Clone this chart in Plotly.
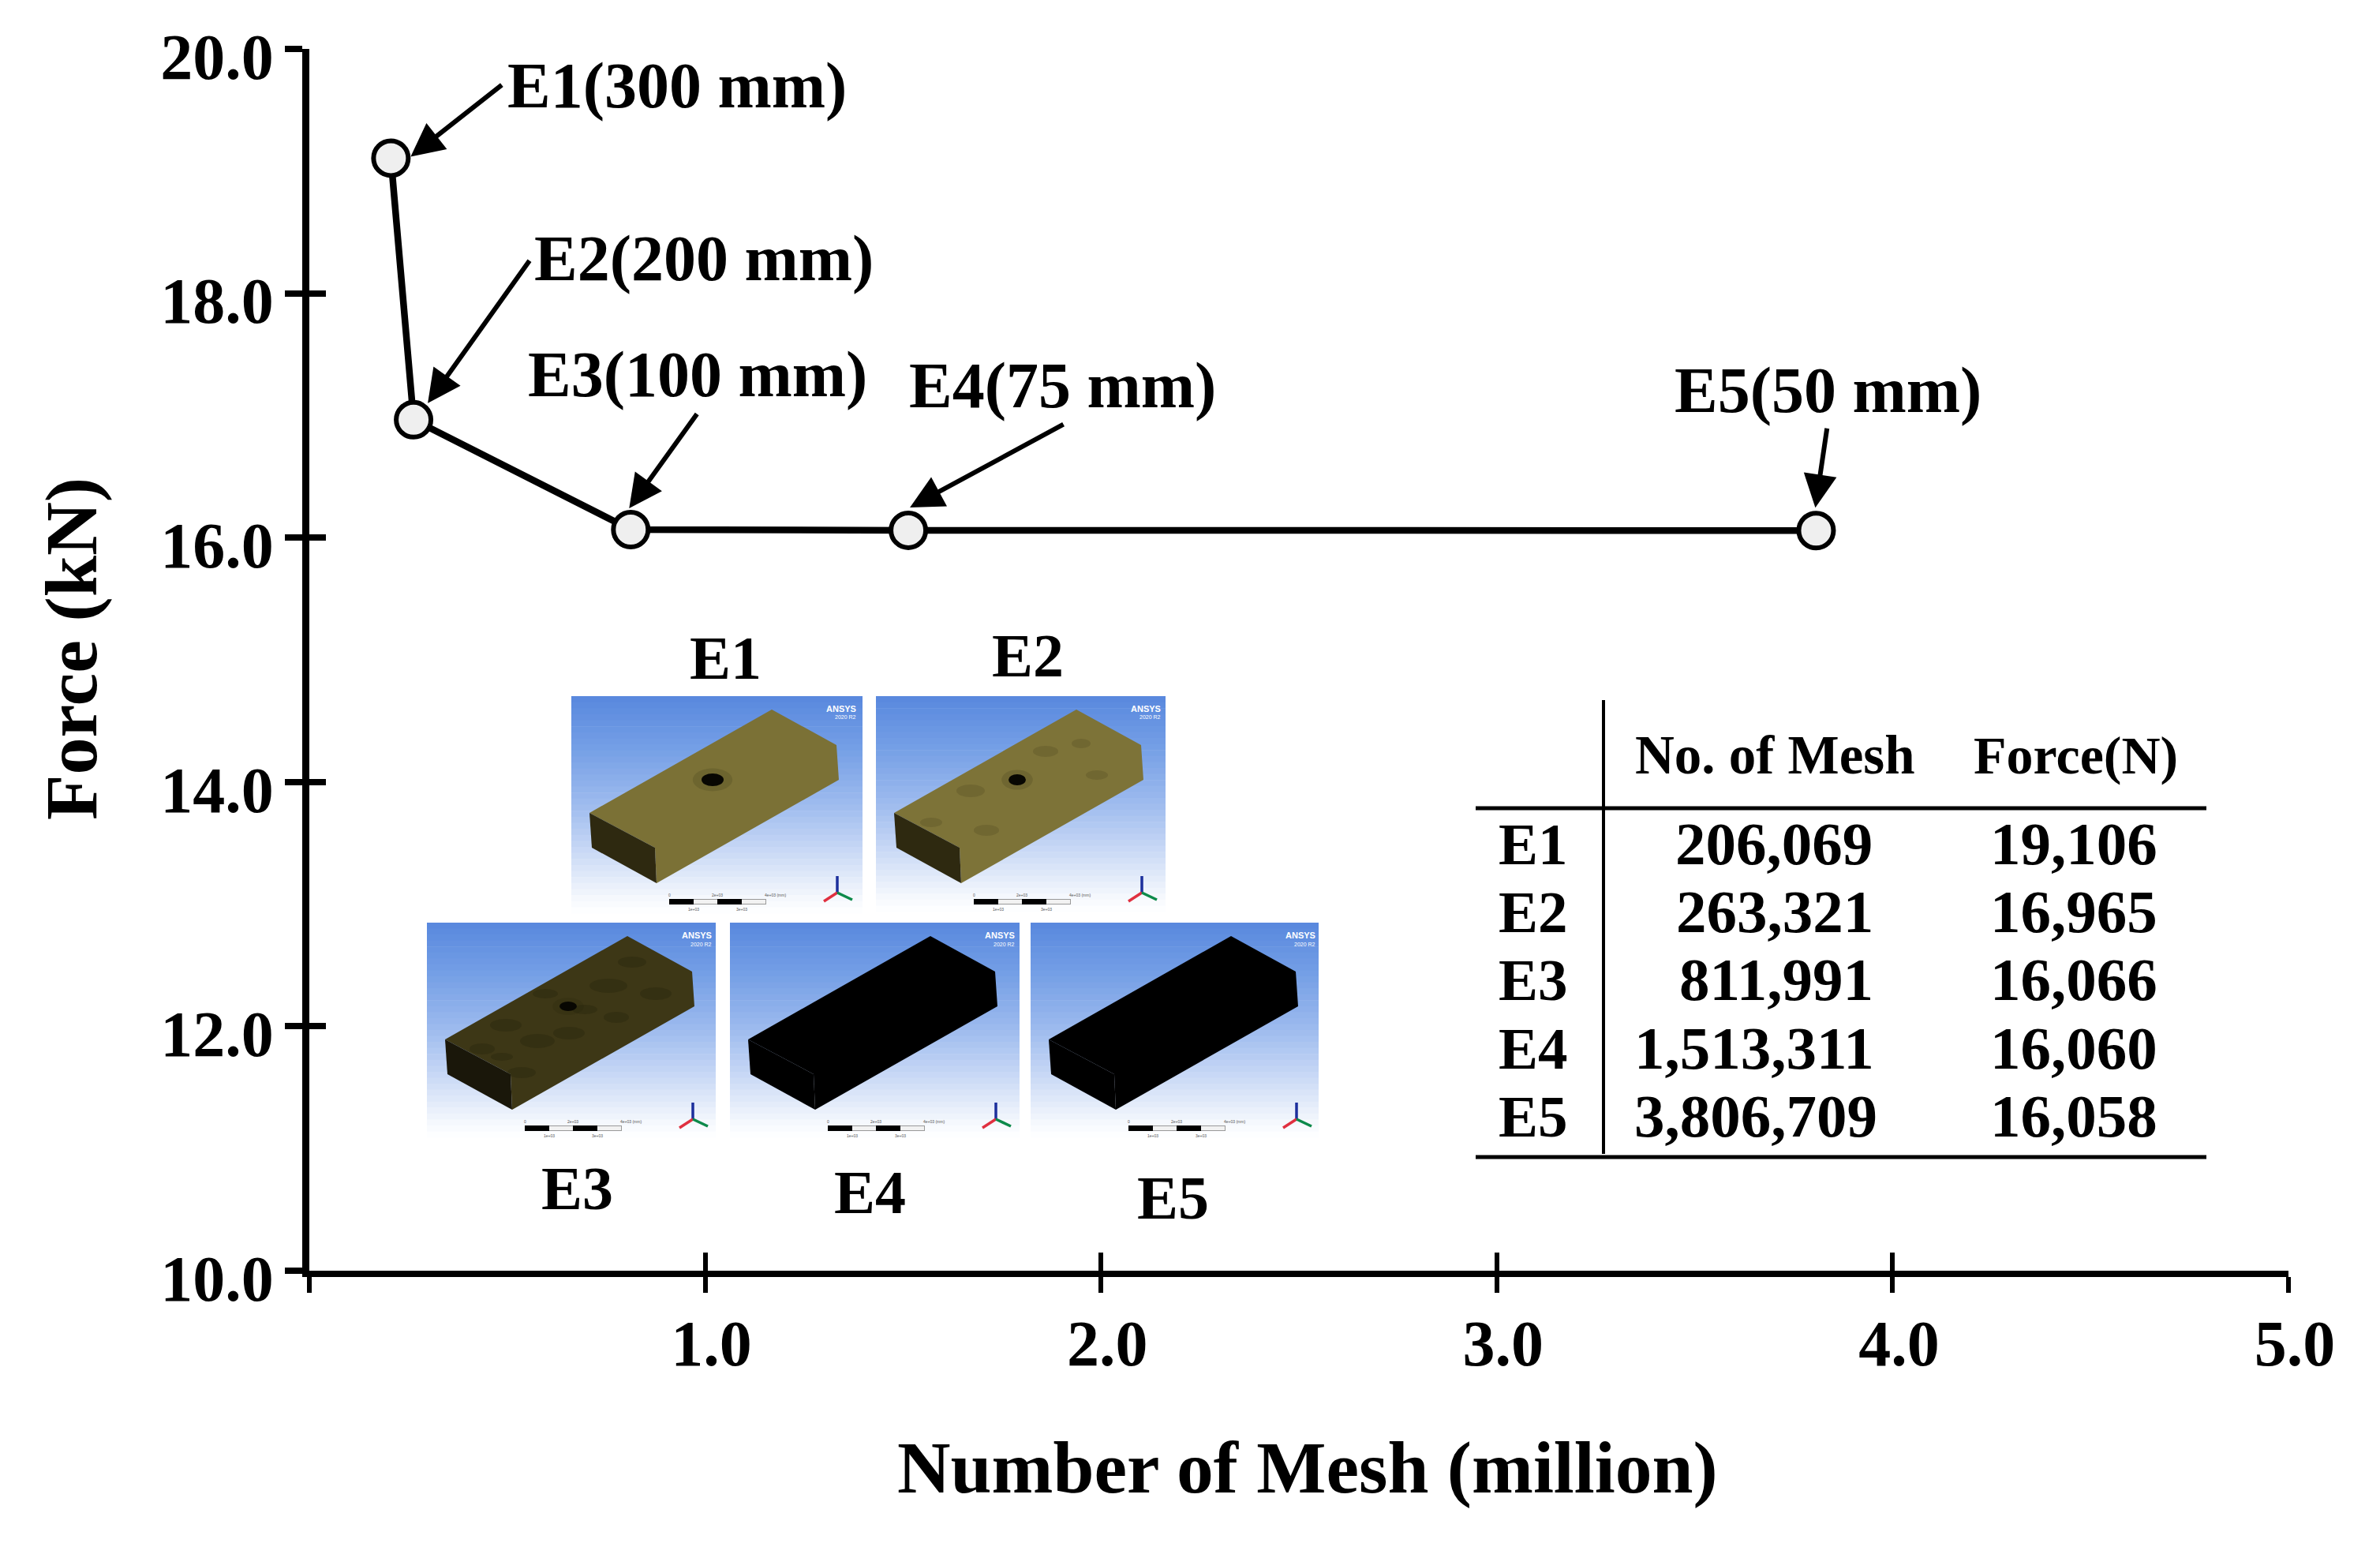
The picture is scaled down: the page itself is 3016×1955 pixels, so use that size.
import plotly.graph_objects as go

# ---------- data ----------
cases = ["E1", "E2", "E3", "E4", "E5"]
element_sizes = ["300 mm", "200 mm", "100 mm", "75 mm", "50 mm"]
mesh_counts = [206069, 263321, 811991, 1513311, 3806709]
force_n = [19106, 16965, 16066, 16060, 16058]
x_ticks = [0, 1, 2, 3, 4, 5]
x_tick_labels = ["", "1.0", "2.0", "3.0", "4.0", "5.0"]
y_ticks = [10, 12, 14, 16, 18, 20]
y_tick_labels = ["10.0", "12.0", "14.0", "16.0", "18.0", "20.0"]
table_headers = ["No. of Mesh", "Force(N)"]
x_title = "Number of Mesh (million)"
y_title = "Force (kN)"

# ---------- layout geometry (page pixels) ----------
W, H = 3016, 1955
BODY = 8  # default margin of the page body
L, R, T, B = 392, 2900, 62, 1610
FONT = "Liberation Serif"
INK = "#000000"


def px(v):
    return (v - L) / (R - L)


def py(v):
    return (B - v) / (B - T)


x_m = [c / 1e6 for c in mesh_counts]
y_k = [f / 1000 for f in force_n]

fig = go.Figure()
fig.add_trace(go.Scatter(
    x=x_m, y=y_k, mode="lines+markers", xaxis="x", yaxis="y", showlegend=False,
    line=dict(color=INK, width=8.5),
    marker=dict(size=44, color="#efefef", line=dict(color=INK, width=6)),
))
# empty trace keeps the overlay axes (inner half of the crossing ticks) alive
fig.add_trace(go.Scatter(x=[None], y=[None], xaxis="x2", yaxis="y2", showlegend=False))

annotations = []
shapes = []


def text(s, x, y, size=78, anchor="left", angle=0):
    annotations.append(dict(
        text=s, xref="paper", yref="paper", x=px(x), y=py(y), showarrow=False,
        xanchor=anchor, yanchor="middle", textangle=angle,
        font=dict(family=FONT, size=size, color=INK, weight="bold"),
    ))


def small(s, x, y, size, color, anchor="center", weight="normal"):
    annotations.append(dict(
        text=s, xref="paper", yref="paper", x=px(x), y=py(y), showarrow=False,
        xanchor=anchor, yanchor="middle",
        font=dict(family="Liberation Sans", size=size, color=color, weight=weight),
    ))


def rect(x0, y0, x1, y1, color):
    shapes.append(dict(type="rect", xref="paper", yref="paper",
                       x0=px(x0), x1=px(x1), y0=py(y0), y1=py(y1),
                       fillcolor=color, line=dict(width=0), layer="below"))


def seg(x0, y0, x1, y1, color=INK, width=5):
    shapes.append(dict(type="line", xref="paper", yref="paper",
                       x0=px(x0), x1=px(x1), y0=py(y0), y1=py(y1),
                       line=dict(color=color, width=width)))


def poly(points, color):
    p = "M " + " L ".join(f"{px(a):.6f} {py(b):.6f}" for a, b in points) + " Z"
    shapes.append(dict(type="path", xref="paper", yref="paper", path=p,
                       fillcolor=color, line=dict(width=0), layer="below"))


def blob(cx, cy, rx, ry, color, opacity=1.0):
    shapes.append(dict(type="circle", xref="paper", yref="paper", layer="below",
                       x0=px(cx - rx), x1=px(cx + rx), y0=py(cy + ry), y1=py(cy - ry),
                       fillcolor=color, opacity=opacity, line=dict(width=0)))


# ---------- callouts ----------
label_pos = [(641, 109), (675, 327), (667, 474), (1150, 488), (2120, 494)]
arrow_tip_offsets = [(25, -2), (18, -21), (-2, -27), (2, -29), (-1, -29)]
arrow_tail_offsets = [(117, -92), (130, -182), (87, -121), (196, -106), (15, -102)]
for i, c in enumerate(cases):
    text(f"{c}({element_sizes[i]})", label_pos[i][0], label_pos[i][1], 82)
    annotations.append(dict(
        x=x_m[i], y=y_k[i], xref="x", yref="y", text="", showarrow=True,
        xshift=arrow_tip_offsets[i][0], yshift=-arrow_tip_offsets[i][1],
        ax=arrow_tail_offsets[i][0], ay=arrow_tail_offsets[i][1],
        axref="pixel", ayref="pixel",
        arrowhead=2, arrowsize=1.4, arrowwidth=6, arrowcolor=INK, standoff=0,
    ))

# ---------- mesh thumbnails ----------
panels = [(724, 882, 369, 275), (1110, 882, 367, 273), (541, 1169, 366, 272),
          (925, 1169, 367, 272), (1306, 1169, 365, 272)]
top_colors = ["#7b7136", "#7d7338", "#3d3716", "#000000", "#000000"]
side_colors = ["#2e2910", "#2e2910", "#1a170a", "#000000", "#000000"]
spot_sizes = [(14, 8), (11, 7), (11, 6), None, None]
panel_titles = [(919, 834), (1302, 830), (731, 1505), (1102, 1510), (1486, 1517)]
mottle = {
    1: [(120, 120, 18, 8), (215, 70, 16, 7), (260, 60, 12, 6), (70, 160, 14, 6), (140, 170, 16, 7), (280, 100, 14, 6)],
    2: [(100, 130, 20, 8), (70, 160, 16, 7), (140, 150, 22, 9), (180, 140, 20, 8), (230, 80, 24, 9),
        (260, 50, 18, 7), (290, 90, 20, 8), (120, 190, 18, 7), (200, 110, 16, 6), (150, 90, 16, 6),
        (240, 120, 16, 7), (95, 170, 14, 5)],
}
grad = [(0.0, (88, 136, 222)), (0.25, (118, 160, 230)), (0.5, (158, 187, 238)),
        (0.75, (208, 222, 247)), (0.92, (243, 247, 253)), (1.0, (255, 255, 255))]


def grad_color(t):
    for (t0, c0), (t1, c1) in zip(grad, grad[1:]):
        if t <= t1:
            f = (t - t0) / (t1 - t0)
            return "rgb(%d,%d,%d)" % tuple(round(a + (b - a) * f) for a, b in zip(c0, c1))
    return "rgb(255,255,255)"


STRIPS = 36
for i, (ox, oy, pw, ph) in enumerate(panels):
    for s in range(STRIPS):
        y0 = oy + ph * s / STRIPS
        y1 = oy + ph * (s + 1) / STRIPS + 0.6
        rect(ox, y0, ox + pw, y1, grad_color((s + 0.5) / STRIPS))
    top = [(254, 17), (336, 62), (339, 106), (108, 237), (106, 192), (23, 148)]
    side = [(23, 148), (106, 192), (108, 237), (26, 192)]
    poly([(ox + a, oy + b) for a, b in top], top_colors[i])
    poly([(ox + a, oy + b) for a, b in side], side_colors[i])
    for mx, my, mrx, mry in mottle.get(i, []):
        blob(ox + mx, oy + my, mrx, mry, "#1c1a08", 0.13 if i == 1 else 0.25)
    if spot_sizes[i]:
        sx, sy = spot_sizes[i]
        blob(ox + 179, oy + 106, sx * 1.8, sy * 1.8, "#1c1a08", 0.14)
        blob(ox + 179, oy + 106, sx, sy, "#080702")
    # scale bar
    rect(ox + 124, oy + 257, ox + 247, oy + 264, "#9a9a9a")
    rect(ox + 125, oy + 258, ox + 246, oy + 263, "#f2f2f2")
    rect(ox + 124, oy + 257, ox + 155, oy + 264, "#000000")
    rect(ox + 185, oy + 257, ox + 216, oy + 264, "#000000")
    small("0", ox + 124, oy + 252, 5, "#555555")
    small("2e+03", ox + 185, oy + 252, 5, "#555555")
    small("4e+03 (mm)", ox + 258, oy + 252, 5, "#555555")
    small("1e+03", ox + 155, oy + 270, 5, "#555555")
    small("3e+03", ox + 216, oy + 270, 5, "#555555")
    # triad
    seg(ox + 337, oy + 249, ox + 337, oy + 228, "#1c2f9c", 3.5)
    seg(ox + 337, oy + 249, ox + 320, oy + 260, "#e03040", 3.5)
    seg(ox + 337, oy + 249, ox + 356, oy + 258, "#0d8a4a", 3.5)
    small("ANSYS", ox + 363, oy + 16, 11, "white", "right", "bold")
    small("2020 R2", ox + 363, oy + 27, 7, "white", "right")
    text(cases[i], panel_titles[i][0], panel_titles[i][1], 78, "center")

# ---------- inset table ----------
seg(2032, 887, 2032, 1462, INK, 4)
seg(1870, 1024, 2796, 1024, INK, 5)
seg(1870, 1466, 2796, 1466, INK, 5)
text(table_headers[0], 2070, 957, 69)
text(table_headers[1], 2499, 957, 68)
row_y = [1069, 1155, 1241, 1328, 1414]
mesh_left = [2121, 2122, 2126, 2069, 2069]
for i, c in enumerate(cases):
    text(c, 1897, row_y[i], 75)
    text(f"{mesh_counts[i]:,}", mesh_left[i], row_y[i], 77)
    text(f"{force_n[i]:,}", 2520, row_y[i], 77)

# ---------- axis titles ----------
text(x_title, 1657, 1860, 93.5, "center")
text(y_title, 90, 822, 94, "center", -90)

tick_font = dict(family=FONT, size=82, color=INK, weight="bold")

fig.update_layout(
    width=W - 2 * BODY, height=H - 2 * BODY, autosize=False,
    margin=dict(l=L - BODY, r=W - BODY - R, t=T - BODY, b=H - BODY - B, pad=0),
    paper_bgcolor="white", plot_bgcolor="white",
    showlegend=False,
    annotations=annotations, shapes=shapes,
    xaxis=dict(
        range=[0, 5], tickmode="array", tickvals=x_ticks, ticktext=x_tick_labels,
        ticks="outside", ticklen=20, tickwidth=6, tickcolor=INK,
        showline=True, linewidth=8, linecolor=INK, showgrid=False, zeroline=False,
        tickfont=tick_font, ticklabelstandoff=-6, ticklabelshift=8,
        automargin=False,
    ),
    yaxis=dict(
        range=[10, 20], tickmode="array", tickvals=y_ticks, ticktext=y_tick_labels,
        ticks="outside", ticklen=22, tickwidth=8, tickcolor=INK,
        showline=True, linewidth=8.5, linecolor=INK, showgrid=False, zeroline=False,
        tickfont=tick_font, ticklabelstandoff=-2, ticklabelshift=9,
        automargin=False,
    ),
    xaxis2=dict(
        range=[0, 5], overlaying="x", anchor="y2", side="bottom",
        tickmode="array", tickvals=x_ticks, showticklabels=False,
        ticks="inside", ticklen=23, tickwidth=6, tickcolor=INK,
        showline=False, showgrid=False, zeroline=False,
    ),
    yaxis2=dict(
        range=[10, 20], overlaying="y", anchor="x2", side="left",
        tickmode="array", tickvals=y_ticks, showticklabels=False,
        ticks="inside", ticklen=21, tickwidth=8, tickcolor=INK,
        showline=False, showgrid=False, zeroline=False,
    ),
)

fig.write_html("out.html")
